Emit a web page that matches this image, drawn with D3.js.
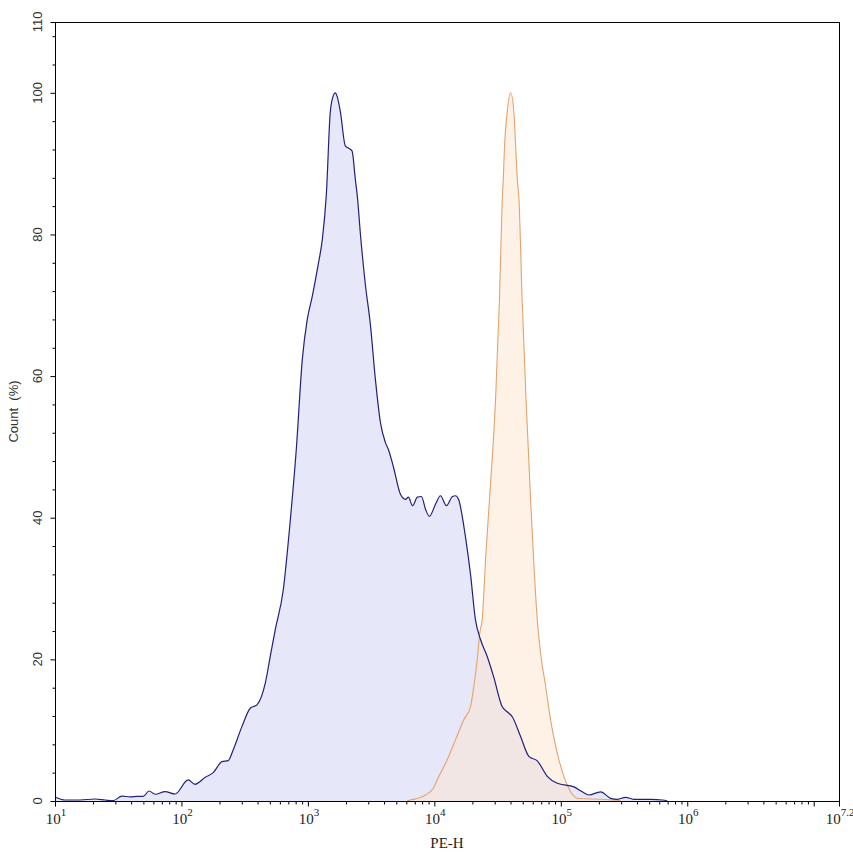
<!DOCTYPE html>
<html>
<head>
<meta charset="utf-8">
<script src="https://cdn.jsdelivr.net/npm/d3@7"></script>
<style>
  body { margin: 0; background: #fff; }
  svg { display: block; }
</style>
</head>
<body>
<script>
// PE-H values are kept as log10 exponents, counts in %
var blueExp = [1.000, 1.079, 1.198, 1.317, 1.396, 1.459, 1.530, 1.594, 1.649, 1.697,
    1.744, 1.792, 1.871, 1.950, 2.053, 2.108, 2.188, 2.251, 2.320, 2.370,
    2.409, 2.478, 2.544, 2.597, 2.663, 2.702, 2.742, 2.805, 2.861, 2.908,
    2.956, 2.995, 3.035, 3.082, 3.114, 3.146, 3.177, 3.201, 3.217, 3.233,
    3.257, 3.296, 3.320, 3.349, 3.375, 3.393, 3.415, 3.454, 3.494, 3.534,
    3.573, 3.613, 3.637, 3.676, 3.732, 3.771, 3.795, 3.827, 3.866, 3.898,
    3.930, 3.961, 4.009, 4.048, 4.096, 4.143, 4.167, 4.191, 4.246, 4.286,
    4.325, 4.365, 4.418, 4.468, 4.537, 4.576, 4.616, 4.682, 4.747, 4.814,
    4.893, 4.972, 5.104, 5.170, 5.222, 5.315, 5.394, 5.447, 5.513, 5.576,
    5.711, 5.804, 5.843];
var blueCount = [0.57, 0.14, 0.14, 0.28, 0.14, 0.04, 0.7, 0.57, 0.66, 0.64,
    1.41, 0.95, 1.32, 0.99, 2.97, 2.36, 3.35, 4.0, 5.56, 5.7,
    7.21, 10.5, 13.1, 13.58, 16.65, 20.4, 24.2, 29.8, 39.7, 49.6,
    62.4, 68.0, 71.3, 75.8, 79.3, 85.7, 97.3, 99.6, 100, 99.4,
    97.3, 92.5, 92.2, 91.8, 87.8, 85.0, 80.1, 73.0, 67.3, 59.5,
    53.5, 50.6, 49.6, 47.2, 43.3, 42.6, 42.9, 41.7, 42.9, 43.0,
    41.2, 40.2, 41.9, 43.1, 41.7, 43.0, 43.1, 42.6, 37.3, 32.0,
    25.6, 22.8, 20.4, 17.6, 13.3, 12.6, 11.9, 9.1, 6.3, 5.66,
    3.49, 2.5, 2.0, 1.3, 0.85, 1.3, 0.38, 0.24, 0.52, 0.24,
    0.24, 0.14, 0];

var orangeExp = [3.785, 3.811, 3.930, 3.993, 4.022, 4.101, 4.167, 4.233, 4.286, 4.312,
    4.339, 4.359, 4.378, 4.405, 4.436, 4.484, 4.515, 4.537, 4.545, 4.555,
    4.576, 4.603, 4.629, 4.643, 4.656, 4.669, 4.694, 4.725, 4.761, 4.785,
    4.814, 4.840, 4.880, 4.919, 4.972, 5.025, 5.078, 5.131, 5.157, 5.315,
    5.470];
var orangeCount = [0.04, 0.14, 0.85, 1.84, 2.97, 5.8, 8.63, 11.46, 13.34, 16.17,
    19.94, 23.7, 25.6, 34.1, 42.6, 56.7, 70.9, 85.0, 87.8, 92.5,
    97.3, 100, 97.3, 92.5, 87.8, 85.0, 70.9, 56.7, 42.6, 34.1,
    25.6, 20.9, 16.2, 11.46, 6.75, 3.44, 1.3, 0.38, 0.35, 0.24,
    0.07];

var xMajorExp = [1, 2, 3, 4, 5, 6, 7, 7.2];
var xLabelExp = ["1", "2", "3", "4", "5", "6", null, "7.2"];
var yMajor = [0, 20, 40, 60, 80, 100, 110];

var W = 853, H = 856;
var margin = {top: 22, right: 14, bottom: 55, left: 55};

var svg = d3.select("body").append("svg")
    .attr("width", W)
    .attr("height", H);

var x = d3.scaleLog()
    .domain([10, Math.pow(10, 7.2)])
    .range([margin.left, W - margin.right]);
var y = d3.scaleLinear()
    .domain([0, 110])
    .range([H - margin.bottom, margin.top]);

var blue = blueExp.map(function(e, i) { return {v: Math.pow(10, e), c: blueCount[i]}; });
var orange = orangeExp.map(function(e, i) { return {v: Math.pow(10, e), c: orangeCount[i]}; });

var area = d3.area()
    .x(function(d) { return x(d.v); })
    .y0(y(0))
    .y1(function(d) { return y(d.c); })
    .curve(d3.curveMonotoneX);
var line = d3.line()
    .x(function(d) { return x(d.v); })
    .y(function(d) { return y(d.c); })
    .curve(d3.curveMonotoneX);

svg.append("path").datum(blue)
    .attr("d", area)
    .attr("fill", "#e7e7fa");
svg.append("path").datum(orange)
    .attr("d", area)
    .attr("fill", "#fbe6cc")
    .attr("fill-opacity", 0.5);
svg.append("path").datum(orange)
    .attr("d", line)
    .attr("fill", "none")
    .attr("stroke", "#e2a46e")
    .attr("stroke-width", 1.1);
svg.append("path").datum(blue)
    .attr("d", line)
    .attr("fill", "none")
    .attr("stroke", "#20207a")
    .attr("stroke-width", 1.2);

// frame
svg.append("rect")
    .attr("x", margin.left + 0.5)
    .attr("y", margin.top + 0.5)
    .attr("width", W - margin.right - margin.left)
    .attr("height", H - margin.bottom - margin.top)
    .attr("fill", "none")
    .attr("stroke", "#000")
    .attr("stroke-width", 1);

// x axis ticks
var xMinor = [];
for (var n = 1; n < 7.2; n++) {
    for (var k = 2; k <= 9; k++) {
        if (Math.log10(k) + n < 7.2) xMinor.push(k * Math.pow(10, n));
    }
}
var xAxisG = svg.append("g").attr("transform", "translate(0," + (y(0) + 0.5) + ")");
xAxisG.append("g")
    .call(d3.axisBottom(x).tickValues(xMinor).tickSize(3).tickFormat(""))
    .call(function(g) { g.select(".domain").remove(); });
xAxisG.append("g")
    .call(d3.axisBottom(x).tickValues(xMajorExp.map(function(e) { return Math.pow(10, e); }))
        .tickSize(5).tickFormat(""))
    .call(function(g) { g.select(".domain").remove(); });

var xl = svg.append("g")
    .attr("font-family", "'Liberation Serif', serif")
    .attr("fill", "#222");
xMajorExp.forEach(function(e, i) {
    if (xLabelExp[i] === null) return;
    var t = xl.append("text")
        .attr("x", x(Math.pow(10, e)) + 1)
        .attr("y", 824)
        .attr("text-anchor", "middle")
        .attr("font-size", 15);
    t.append("tspan").text("10");
    t.append("tspan").attr("dy", -8).attr("font-size", 11).text(xLabelExp[i]);
});
xl.append("text")
    .attr("x", (x.range()[0] + x.range()[1]) / 2)
    .attr("y", 848)
    .attr("text-anchor", "middle")
    .attr("font-size", 15)
    .text("PE-H");

// y axis ticks
var yMinor = d3.range(4, 110, 4).filter(function(v) { return v % 20 !== 0; });
var yAxisG = svg.append("g").attr("transform", "translate(" + (margin.left + 0.5) + ",0)");
yAxisG.append("g")
    .call(d3.axisLeft(y).tickValues(yMinor).tickSize(3).tickFormat(""))
    .call(function(g) { g.select(".domain").remove(); });
yAxisG.append("g")
    .call(d3.axisLeft(y).tickValues(yMajor).tickSize(5).tickFormat(""))
    .call(function(g) { g.select(".domain").remove(); });

var yl = svg.append("g")
    .attr("font-family", "'Liberation Sans', Arial, sans-serif")
    .attr("fill", "#333")
    .attr("font-size", 13);
yMajor.forEach(function(v) {
    yl.append("text")
        .attr("transform", "translate(42," + y(v) + ") rotate(-90)")
        .attr("text-anchor", "middle")
        .text(v);
});
yl.append("text")
    .attr("transform", "translate(18," + ((y.range()[0] + y.range()[1]) / 2) + ") rotate(-90)")
    .attr("text-anchor", "middle")
    .attr("xml:space", "preserve")
    .text("Count  (%)");
</script>
</body>
</html>
